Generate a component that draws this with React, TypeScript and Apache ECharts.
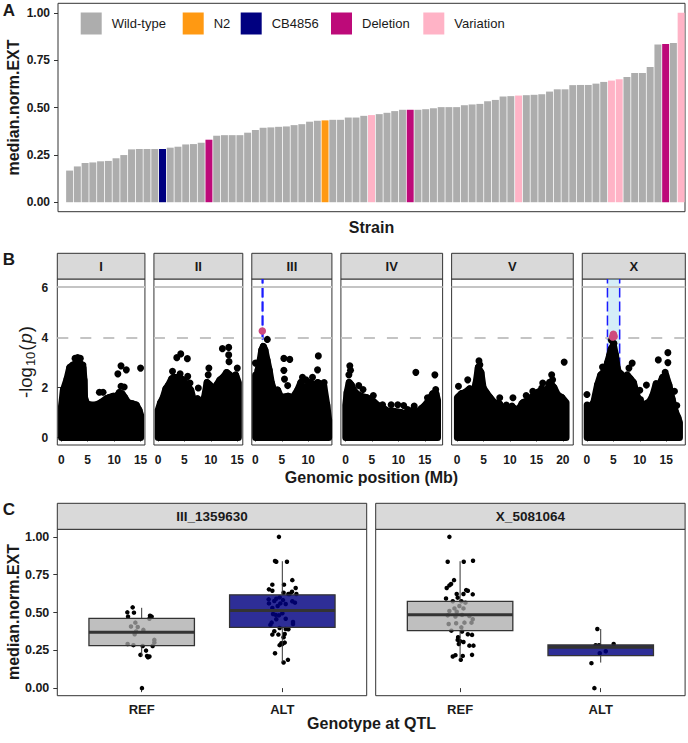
import React, { useEffect, useRef } from 'react';
import * as echarts from 'echarts';

// ---------------- Panel A data ----------------
const strainGroups = ['Wild-type', 'N2', 'CB4856', 'Deletion', 'Variation'];
const groupColors = ['#adadad', '#ff9912', '#000080', '#bd0a79', '#ffb3c6'];
const strainValues = [
  0,
  0.167, 0.189, 0.207, 0.21, 0.216, 0.218, 0.232, 0.249, 0.279, 0.281,
  0.281, 0.281, 0.281, 0.288, 0.293, 0.305, 0.307, 0.314, 0.33, 0.351,
  0.354, 0.354, 0.354, 0.367, 0.381, 0.393, 0.395, 0.398, 0.4, 0.407,
  0.412, 0.425, 0.43, 0.432, 0.435, 0.435, 0.447, 0.447, 0.456, 0.46,
  0.465, 0.472, 0.481, 0.488, 0.488, 0.488, 0.491, 0.496, 0.502, 0.502,
  0.502, 0.512, 0.516, 0.519, 0.533, 0.54, 0.558, 0.56, 0.563, 0.565,
  0.567, 0.57, 0.584, 0.596, 0.596, 0.618, 0.619, 0.619, 0.626, 0.635,
  0.642, 0.649, 0.661, 0.682, 0.682, 0.714, 0.833, 0.835, 0.84, 1.0,
];
const strainGroupIdx = [
  0,
  0, 0, 0, 0, 0, 0, 0, 0, 0, 0,
  0, 0, 2, 0, 0, 0, 0, 0, 3, 0,
  0, 0, 0, 0, 0, 0, 0, 0, 0, 0,
  0, 0, 0, 1, 0, 0, 0, 0, 0, 4,
  0, 0, 0, 0, 3, 0, 0, 0, 0, 0,
  0, 0, 0, 0, 0, 0, 0, 0, 4, 0,
  0, 0, 0, 0, 0, 0, 0, 0, 0, 0,
  4, 4, 0, 0, 0, 0, 0, 3, 0, 4,
];
const yTicksA = [0, 0.25, 0.5, 0.75, 1];

// ---------------- Panel B data ----------------
const chromNames = ['I', 'II', 'III', 'IV', 'V', 'X'];
const chromLengths = [15.07, 15.28, 13.78, 17.49, 20.92, 17.72];
const xTicksB = [0, 5, 10, 15, 20];
const yTicksB = [0, 2, 4, 6];
const bonferroni = 6.03;
const suggestive = 4.0;

const envI = [[0.05,1.26],[0.4,1.9],[1.1,2.35],[1.6,2.8],[2.2,2.9],[2.8,2.95],[3.6,2.95],[4.1,2.8],[4.3,2.3],[4.4,1.6],[4.8,1.35],[5.5,1.3],[6.5,1.3],[7.5,1.4],[8.5,1.55],[9.0,1.6],[9.8,1.65],[10.5,1.65],[11.0,1.8],[11.5,1.75],[12.0,1.6],[12.6,1.4],[13.5,1.35],[14.2,1.3],[14.7,1.1],[15.0,0.9]];
const envII = [[0.05,1.1],[0.5,1.4],[1.0,1.6],[1.5,1.95],[2.0,2.1],[2.6,2.35],[3.2,2.4],[4.0,2.4],[4.8,2.3],[5.5,2.1],[6.2,1.9],[6.7,1.5],[7.0,1.2],[7.5,1.55],[7.9,1.4],[8.3,1.25],[8.8,1.6],[9.3,2.2],[9.8,2.1],[10.5,1.9],[11.1,2.1],[11.7,2.3],[12.3,2.4],[13.0,2.6],[13.6,2.5],[14.2,2.3],[14.7,2.5],[15.2,2.2]];
const envIII = [[0.05,2.5],[0.3,2.4],[0.5,2.7],[0.9,3.1],[1.2,3.5],[1.5,3.65],[1.8,3.5],[2.2,3.1],[2.6,2.7],[3.0,2.2],[3.6,1.8],[4.2,1.9],[4.8,1.6],[6.2,1.65],[7.1,1.6],[8.0,1.9],[8.6,2.2],[9.2,1.8],[10.2,2.2],[11.1,2.1],[11.8,2.2],[12.9,2.1],[13.5,1.3],[13.85,0.7]];
const envIV = [[0.05,1.3],[0.3,1.8],[0.7,2.2],[1.1,2.1],[1.5,1.9],[2.1,1.75],[3.0,1.65],[4.0,1.6],[5.0,1.5],[6.0,1.3],[7.0,1.2],[8.0,1.05],[9.0,1.05],[10.5,1.0],[11.5,0.95],[12.3,0.6],[12.8,1.1],[13.5,1.0],[14.3,1.15],[15.1,1.3],[15.8,1.5],[16.5,1.75],[17.1,1.75],[17.4,1.5]];
const envV = [[0.05,1.6],[0.8,1.75],[1.5,1.8],[2.4,1.95],[3.0,1.7],[3.6,2.2],[4.0,2.8],[4.5,2.6],[4.9,2.0],[5.5,1.8],[6.2,1.6],[7.0,1.4],[8.0,1.35],[8.8,1.1],[9.5,1.1],[10.5,1.2],[11.5,1.1],[12.5,1.4],[13.5,1.5],[14.5,1.7],[15.2,1.8],[16.0,1.9],[16.8,1.65],[17.5,2.2],[18.3,2.0],[19.0,1.7],[19.8,1.6],[20.6,1.4]];
const envX = [[0.05,1.3],[0.5,1.2],[1.3,1.4],[2.0,2.1],[2.6,2.5],[3.5,2.7],[3.9,3.0],[4.3,3.3],[4.6,3.55],[5.0,3.7],[5.4,3.3],[5.7,2.8],[6.0,2.6],[6.4,2.55],[7.0,2.1],[7.6,2.5],[8.2,2.35],[8.8,2.2],[9.4,1.7],[10.0,1.45],[10.6,1.3],[11.2,1.35],[11.9,1.45],[12.5,1.7],[13.1,2.15],[13.7,2.1],[14.3,2.4],[14.9,2.5],[15.5,2.1],[16.1,1.55],[16.7,1.05],[17.2,0.8],[17.5,0.6]];

const ptsI = [[2.6,3.17],[3.1,3.2],[3.6,3.17],[4.1,2.9],[7.2,1.81],[7.9,1.81],[10.7,2.55],[11.3,2.87],[11.3,2.05],[11.9,2.02],[12.3,2.71],[15.0,2.78]];
const ptsII = [[2.75,2.65],[3.56,3.2],[4.19,2.55],[4.31,3.35],[5.56,3.16],[5.63,2.45],[6.06,2.18],[7.63,1.98],[9.5,2.51],[9.63,2.78],[12.19,3.56],[13.38,3.61],[13.38,3.31],[13.44,3.04],[15.0,2.78]];
const ptsIII = [[0.0,2.98],[2.25,3.93],[5.38,3.17],[6.5,3.13],[5.38,2.69],[5.5,2.34],[6.1,2.08],[8.6,2.16],[8.9,2.41],[9.56,2.31],[10.8,2.41],[11.75,2.71],[11.9,3.27],[13.0,2.2]];
const ptsIV = [[0.63,2.51],[0.81,2.87],[0.94,2.69],[2.5,2.08],[3.31,1.92],[5.25,1.68],[7.0,1.31],[8.63,1.31],[9.88,1.31],[11.0,1.28],[11.75,1.12],[12.99,1.26],[13.3,2.61],[15.5,1.59],[16.9,2.51],[17.06,1.92]];
const ptsV = [[0.25,2.05],[2.0,2.31],[4.13,3.07],[4.3,2.91],[8.06,1.59],[9.31,1.3],[10.38,1.26],[10.56,1.59],[12.25,1.36],[13.06,1.68],[14.31,1.85],[16.0,1.98],[16.19,2.18],[17.88,2.51],[18.06,2.31],[20.25,3.02]];
const ptsX = [[0.0,1.72],[2.94,2.82],[4.63,3.9],[5.1,3.77],[7.94,2.78],[8.56,2.98],[9.8,1.26],[10.0,1.89],[10.13,1.52],[11.25,2.1],[13.5,3.11],[14.8,2.61],[15.31,3.4],[15.31,3.0],[16.56,1.85],[17.0,1.28]];

const peakIII = [[1.3, 4.27]];
const peakX = [[4.85, 4.03], [5.0, 4.14], [5.15, 4.05]];
const qtlIII = [1.28, 1.42];
const qtlX = [3.88, 6.19];

const envs = [envI, envII, envIII, envIV, envV, envX];
const pts = [ptsI, ptsII, ptsIII, ptsIV, ptsV, ptsX];
const peaks = [[], [], peakIII, [], [], peakX];
const qtls = [null, null, qtlIII, null, null, qtlX];

// ---------------- Panel C data ----------------
const markerNames = ['III_1359630', 'X_5081064'];
const genoLabels = ['REF', 'ALT'];
// [lower whisker, Q1, median, Q3, upper whisker]
const boxIII = [[0.207, 0.281, 0.369, 0.461, 0.531], [0.171, 0.402, 0.514, 0.617, 0.839]];
const boxX = [[0.191, 0.38, 0.485, 0.573, 0.839], [0.169, 0.215, 0.27, 0.285, 0.391]];
const yTicksC = [0, 0.25, 0.5, 0.75, 1];

// [jitter offset, value]
const ptsIII_REF = [[-0.064,0.534],[-0.102,0.501],[-0.055,0.499],[-0.097,0.473],[0.059,0.479],[0.071,0.473],[0.055,0.459],[-0.045,0.433],[-0.076,0.407],[-0.028,0.404],[0.012,0.385],[-0.04,0.374],[-0.05,0.356],[0.09,0.319],[0.09,0.301],[-0.1,0.292],[-0.059,0.284],[0.007,0.279],[0.078,0.279],[0.031,0.248],[-0.009,0.22],[0.038,0.213],[0.055,0.209],[0.045,0.204],[0.002,0.0]];
const ptsIII_ALT = [[-0.024,1.0],[-0.052,0.84],[-0.043,0.835],[0.033,0.835],[0.071,0.714],[-0.071,0.684],[0.012,0.684],[-0.095,0.653],[-0.071,0.644],[0.095,0.662],[0.069,0.637],[0.052,0.622],[0.1,0.622],[0.009,0.631],[0.043,0.622],[-0.097,0.587],[-0.043,0.591],[-0.019,0.6],[-0.057,0.576],[0.005,0.582],[0.071,0.574],[0.09,0.565],[-0.095,0.56],[-0.014,0.56],[0.024,0.556],[-0.033,0.543],[-0.071,0.53],[0.0,0.495],[-0.066,0.49],[-0.047,0.484],[-0.024,0.481],[0.024,0.459],[-0.043,0.455],[-0.076,0.433],[-0.085,0.418],[0.076,0.437],[0.076,0.424],[-0.019,0.398],[0.024,0.391],[-0.057,0.376],[0.043,0.389],[-0.071,0.354],[-0.028,0.354],[0.017,0.358],[0.009,0.336],[-0.007,0.297],[0.017,0.301],[-0.019,0.284],[0.0,0.292],[-0.052,0.231],[0.04,0.187],[0.009,0.169]];
const ptsX_REF = [[-0.076,1.0],[-0.088,0.835],[0.026,0.835],[0.092,0.842],[-0.043,0.714],[-0.064,0.688],[-0.076,0.679],[-0.095,0.662],[0.043,0.648],[0.055,0.644],[-0.024,0.622],[0.024,0.622],[0.09,0.62],[-0.1,0.593],[-0.017,0.598],[-0.052,0.574],[0.009,0.574],[0.038,0.565],[-0.005,0.543],[-0.04,0.527],[0.024,0.527],[-0.076,0.51],[-0.024,0.505],[-0.088,0.481],[-0.033,0.473],[0.014,0.484],[0.066,0.477],[0.09,0.455],[-0.081,0.424],[-0.028,0.429],[0.031,0.433],[0.081,0.433],[0.009,0.402],[-0.062,0.38],[0.014,0.374],[0.055,0.356],[0.085,0.352],[-0.014,0.336],[-0.017,0.319],[0.0,0.31],[0.024,0.305],[-0.009,0.292],[0.066,0.281],[0.095,0.281],[-0.033,0.218],[-0.052,0.209],[0.019,0.213],[0.005,0.187],[0.085,0.22]];
const ptsX_ALT = [[-0.024,0.391],[-0.036,0.284],[-0.012,0.284],[0.092,0.292],[0.036,0.244],[-0.007,0.231],[-0.066,0.165],[-0.045,0.0]];

const boxes = [boxIII, boxX];
const boxPts = [[ptsIII_REF, ptsIII_ALT], [ptsX_REF, ptsX_ALT]];

// ---------------- styling / layout ----------------
const FONT = "'Liberation Sans', Arial, Helvetica, sans-serif";
const TXT = '#1a1a1a';
const BORDER = '#333333';
const STRIP = '#d9d9d9';
const boxFills = ['rgba(170,170,170,0.75)', 'rgba(0,0,128,0.82)'];

const A = { left: 58, top: 3.3, width: 627, height: 208.4 };
const B = { left: 57.3, right: 685.3, gap: 9, top: 279, height: 166, stripTop: 253.3 };
const C = { left: 57.3, width: 309.4, gap: 9, top: 529.3, height: 166.4, stripTop: 503.3 };
const legendLefts = [80.7, 182.7, 240.7, 331, 423.3];

function tickLabel(show: boolean, extra: any = {}) {
  return { show, color: TXT, fontWeight: 'bold', fontSize: 12, fontFamily: FONT, margin: 8, ...extra };
}

function buildOption() {
  const grids: any[] = [];
  const xAxes: any[] = [];
  const yAxes: any[] = [];
  const series: any[] = [];
  const graphics: any[] = [];

  const gridBase = { show: true, borderColor: BORDER, borderWidth: 1, backgroundColor: 'transparent', containLabel: false, outerBoundsMode: 'none' };

  // ---- Panel A ----
  grids.push({ ...gridBase, ...A });
  xAxes.push({
    gridIndex: 0, type: 'category', data: strainValues.map((_, i) => 'S' + i),
    axisLine: { show: false }, axisTick: { show: false }, axisLabel: { show: false }, splitLine: { show: false },
  });
  yAxes.push({
    gridIndex: 0, type: 'value', min: -0.05, max: 1.05,
    axisLine: { show: false }, splitLine: { show: false },
    axisTick: { show: true, length: 4, customValues: yTicksA, lineStyle: { color: BORDER, width: 1 } },
    axisLabel: tickLabel(true, { customValues: yTicksA, formatter: (v: number) => v.toFixed(2) }),
  });
  strainGroups.forEach((g, gi) => {
    series.push({
      name: g, type: 'bar', xAxisIndex: 0, yAxisIndex: 0, stack: 'strain',
      barWidth: '90%', itemStyle: { color: groupColors[gi] },
      data: strainValues.map((v, i) => (strainGroupIdx[i] === gi ? v : null)),
    });
  });

  // ---- Panel B ----
  const totalLen = chromLengths.reduce((a, b) => a + b, 0) * 1.1;
  const scaleB = (B.right - B.left - 5 * B.gap) / totalLen;
  let cursor = B.left;
  chromLengths.forEach((L, ci) => {
    const w = L * 1.1 * scaleB;
    const gIdx = grids.length;
    grids.push({ ...gridBase, left: cursor, top: B.top, width: w, height: B.height });
    const xt = xTicksB.filter((v) => v <= L);
    xAxes.push({
      gridIndex: gIdx, type: 'value', min: -0.05 * L, max: 1.05 * L,
      axisLine: { show: false }, splitLine: { show: false },
      axisTick: { show: true, length: 4, customValues: xt, lineStyle: { color: BORDER } },
      axisLabel: tickLabel(true, { customValues: xt, formatter: (v: number) => String(v), margin: 9 }),
    });
    yAxes.push({
      gridIndex: gIdx, type: 'value', min: -0.3, max: 6.35,
      axisLine: { show: false }, splitLine: { show: false },
      axisTick: { show: ci === 0, length: 4, customValues: yTicksB, lineStyle: { color: BORDER } },
      axisLabel: tickLabel(ci === 0, { customValues: yTicksB, formatter: (v: number) => String(v), margin: 9 }),
    });
    const axIdx = { xAxisIndex: gIdx, yAxisIndex: gIdx };
    const q = qtls[ci];
    if (q) {
      series.push({
        type: 'custom', ...axIdx, silent: true, z: 1, data: [[q[0], q[1]]],
        encode: { x: [0, 1] },
        renderItem: (params: any, api: any) => {
          const p0 = api.coord([api.value(0), 0]);
          const p1 = api.coord([api.value(1), 6.35]);
          const dash = { stroke: '#1a1aff', lineWidth: 1.5, lineDash: [10, 4] };
          return {
            type: 'group', children: [
              { type: 'rect', shape: { x: p0[0], y: p1[1], width: p1[0] - p0[0], height: p0[1] - p1[1] }, style: { fill: 'rgba(135,206,235,0.35)' } },
              { type: 'line', shape: { x1: p0[0], y1: p0[1], x2: p0[0], y2: p1[1] }, style: dash },
              { type: 'line', shape: { x1: p1[0], y1: p0[1], x2: p1[0], y2: p1[1] }, style: dash },
            ],
          };
        },
      });
    }
    // dense mass of markers: polygon segments through the envelope
    const env = envs[ci];
    const segs = env.slice(0, -1).map((p, i) => [p[0], p[1], env[i + 1][0], env[i + 1][1]]);
    series.push({
      type: 'custom', ...axIdx, silent: true, z: 3, data: segs,
      encode: { x: [0, 2], y: [1, 3] },
      renderItem: (params: any, api: any) => {
        const x0 = api.value(0), y0 = api.value(1), x1 = api.value(2), y1 = api.value(3);
        const a = api.coord([x0, 0]), b = api.coord([x0, y0]), c = api.coord([x1, y1]), d = api.coord([x1, 0]);
        return {
          type: 'polygon', shape: { points: [a, b, c, d] },
          style: { fill: '#000', stroke: '#000', lineWidth: 7, lineJoin: 'round' },
        };
      },
    });
    series.push({
      type: 'scatter', ...axIdx, silent: true, z: 3, symbolSize: 7, itemStyle: { color: '#000', opacity: 1 },
      data: pts[ci],
      markLine: {
        silent: true, symbol: ['none', 'none'], label: { show: false }, z: 2,
        data: [
          { yAxis: bonferroni, lineStyle: { color: '#c4c4c4', width: 2.2, type: 'solid' } },
          { yAxis: suggestive, lineStyle: { color: '#c4c4c4', width: 2.2, type: [11, 12] } },
        ],
      },
    });
    if (peaks[ci].length) {
      series.push({
        type: 'scatter', ...axIdx, silent: true, z: 4, symbolSize: 7.5, itemStyle: { color: '#cf4a7e', opacity: 1 },
        data: peaks[ci],
      });
    }
    // strip
    graphics.push(
      { type: 'rect', shape: { x: cursor, y: B.stripTop, width: w, height: B.top - B.stripTop }, style: { fill: STRIP, stroke: BORDER, lineWidth: 1 } },
      { type: 'text', x: cursor + w / 2, y: B.stripTop + (B.top - B.stripTop) / 2, style: { text: chromNames[ci], font: `bold 13px ${FONT}`, fill: TXT, textAlign: 'center', textVerticalAlign: 'middle' } },
    );
    cursor += w + B.gap;
  });

  // ---- Panel C ----
  markerNames.forEach((m, mi) => {
    const left = C.left + mi * (C.width + C.gap);
    const gIdx = grids.length;
    grids.push({ ...gridBase, left, top: C.top, width: C.width, height: C.height });
    xAxes.push({
      gridIndex: gIdx, type: 'value', min: 0.4, max: 2.6,
      axisLine: { show: false }, splitLine: { show: false },
      axisTick: { show: true, length: 4, customValues: [1, 2], lineStyle: { color: BORDER } },
      axisLabel: tickLabel(true, { customValues: [1, 2], formatter: (v: number) => genoLabels[Math.round(v) - 1], margin: 7, fontSize: 13 }),
    });
    yAxes.push({
      gridIndex: gIdx, type: 'value', min: -0.05, max: 1.05,
      axisLine: { show: false }, splitLine: { show: false },
      axisTick: { show: mi === 0, length: 4, customValues: yTicksC, lineStyle: { color: BORDER } },
      axisLabel: tickLabel(mi === 0, { customValues: yTicksC, formatter: (v: number) => v.toFixed(2), fontSize: 12.5 }),
    });
    const axIdx = { xAxisIndex: gIdx, yAxisIndex: gIdx };
    const allPts: number[][] = [];
    boxPts[mi].forEach((arr, gi) => arr.forEach(([o, v]) => allPts.push([gi + 1 + o, v])));
    series.push({ type: 'scatter', ...axIdx, silent: true, z: 2, symbolSize: 4.5, itemStyle: { color: '#000', opacity: 1 }, data: allPts });
    series.push({
      type: 'custom', ...axIdx, silent: true, z: 5,
      data: boxes[mi].map((s, i) => [i + 1, ...s]),
      encode: { x: 0, y: [1, 2, 3, 4, 5] },
      renderItem: (params: any, api: any) => {
        const x = api.value(0);
        const pLo = api.coord([x, api.value(1)]);
        const pQ1 = api.coord([x, api.value(2)]);
        const pMd = api.coord([x, api.value(3)]);
        const pQ3 = api.coord([x, api.value(4)]);
        const pHi = api.coord([x, api.value(5)]);
        const hw = api.size([0.75, 0])[0] / 2;
        const ln = { stroke: BORDER, lineWidth: 1 };
        return {
          type: 'group', children: [
            { type: 'line', shape: { x1: pHi[0], y1: pHi[1], x2: pQ3[0], y2: pQ3[1] }, style: ln },
            { type: 'line', shape: { x1: pLo[0], y1: pLo[1], x2: pQ1[0], y2: pQ1[1] }, style: ln },
            { type: 'rect', shape: { x: pQ3[0] - hw, y: pQ3[1], width: 2 * hw, height: pQ1[1] - pQ3[1] }, style: { fill: boxFills[params.dataIndex], stroke: BORDER, lineWidth: 1.3 } },
            { type: 'line', shape: { x1: pMd[0] - hw, y1: pMd[1], x2: pMd[0] + hw, y2: pMd[1] }, style: { stroke: BORDER, lineWidth: 3 } },
          ],
        };
      },
    });
    graphics.push(
      { type: 'rect', shape: { x: left, y: C.stripTop, width: C.width, height: C.top - C.stripTop }, style: { fill: STRIP, stroke: BORDER, lineWidth: 1 } },
      { type: 'text', x: left + C.width / 2, y: C.stripTop + (C.top - C.stripTop) / 2, style: { text: m, font: `bold 13.5px ${FONT}`, fill: TXT, textAlign: 'center', textVerticalAlign: 'middle' } },
    );
  });

  // ---- titles ----
  const title = (text: string, x: number, y: number, rot = 0, extra: any = {}) => ({
    type: 'text', x, y, rotation: rot,
    style: { text, font: `bold 16px ${FONT}`, fill: TXT, textAlign: 'center', textVerticalAlign: 'middle', ...extra },
  });
  graphics.push(
    title('A', 9, 10.5, 0, { font: `bold 17px ${FONT}` }),
    title('B', 9, 259.5, 0, { font: `bold 17px ${FONT}` }),
    title('C', 9, 509.5, 0, { font: `bold 17px ${FONT}` }),
    title('median.norm.EXT', 13, 107.5, Math.PI / 2),
    title('median.norm.EXT', 13, 612, Math.PI / 2),
    title('Strain', 371.5, 227.5),
    title('Genomic position (Mb)', 371.5, 477),
    title('Genotype at QTL', 371.5, 723.5),
    {
      type: 'text', x: 25, y: 362, rotation: Math.PI / 2,
      style: {
        text: '{n|-log}{s|10}{n|(}{i|p}{n|)}',
        textAlign: 'center', textVerticalAlign: 'middle', fill: TXT,
        rich: {
          n: { fontSize: 18.5, fontFamily: FONT, fill: TXT },
          s: { fontSize: 13, fontFamily: FONT, fill: TXT, padding: [10, 1, 0, 1] },
          i: { fontSize: 18.5, fontFamily: FONT, fontStyle: 'italic', fill: TXT, padding: [0, 1, 0, 1] },
        },
      },
    },
  );

  const legends = strainGroups.map((g, gi) => ({
    show: true, left: legendLefts[gi], top: 12.5, padding: 0, orient: 'horizontal', icon: 'rect',
    itemWidth: 21, itemHeight: 22, selectedMode: false, data: [g],
    textStyle: { fontSize: 13, fontFamily: FONT, color: TXT, padding: [0, 0, 0, 5] },
  }));

  return {
    animation: false,
    backgroundColor: '#ffffff',
    legend: legends,
    grid: grids,
    xAxis: xAxes,
    yAxis: yAxes,
    series,
    graphic: { elements: graphics },
  };
}

export default function App() {
  const ref = useRef<HTMLDivElement>(null);
  useEffect(() => {
    const chart = echarts.init(ref.current as HTMLDivElement, null, { renderer: 'svg' });
    chart.setOption(buildOption() as any);
    return () => chart.dispose();
  }, []);
  return (
    <div
      ref={ref}
      style={{ position: 'absolute', left: 0, top: 0, width: 688, height: 743, background: '#ffffff' }}
    />
  );
}
